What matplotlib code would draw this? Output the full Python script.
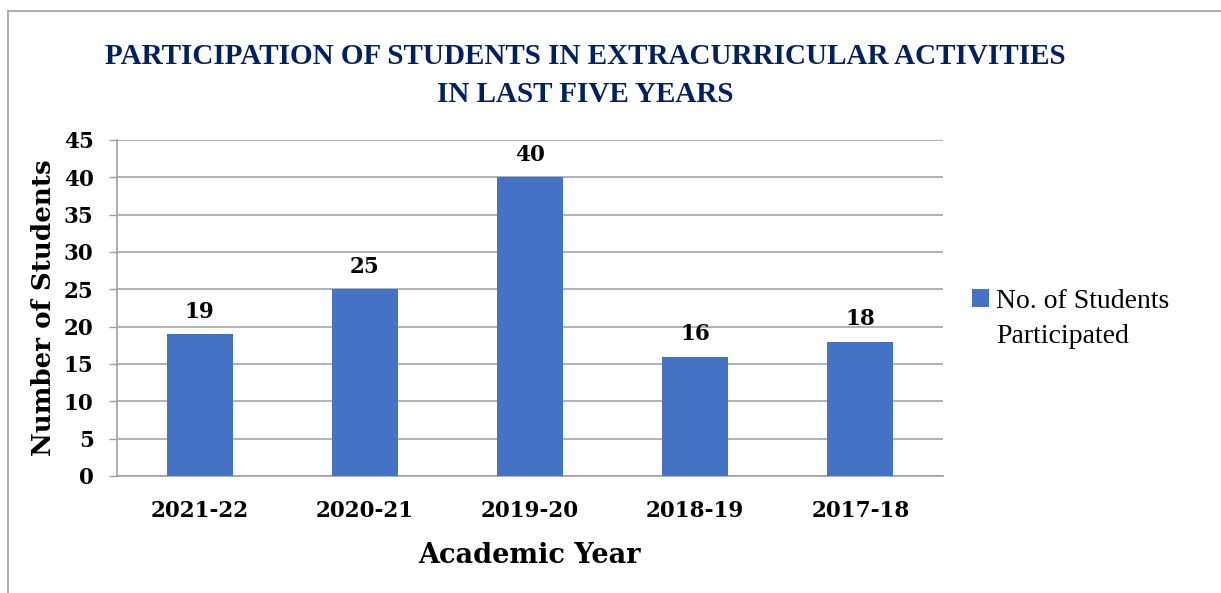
import matplotlib
matplotlib.use("Agg")
import matplotlib.pyplot as plt
from matplotlib.lines import Line2D
from matplotlib.patches import Patch

years = ["2021-22", "2020-21", "2019-20", "2018-19", "2017-18"]
students = [19, 25, 40, 16, 18]
yticks = [0, 5, 10, 15, 20, 25, 30, 35, 40, 45]
series_name_lines = ["No. of Students", "Participated"]

WIDE = ["DejaVu Serif"]
NARROW = ["Liberation Serif", "DejaVu Serif"]
plt.rcParams["font.family"] = WIDE

fig = plt.figure(figsize=(12.21, 5.93), dpi=100)
W, H = 1221, 593
ax = fig.add_axes([117 / W, 1 - 476 / H, (943 - 117) / W, (476 - 140) / H])

bar_color = "#4472C4"
x = list(range(len(years)))
ax.bar(x, students, width=0.4, color=bar_color, zorder=3)
for xi, v in zip(x, students):
    ax.text(xi, v + 2.2, str(v), ha="center", va="baseline", fontsize=15.5,
            fontweight="bold", color="black")

ax.set_xlim(-0.5, len(years) - 0.5)
ax.set_ylim(0, 45)
ax.set_yticks(yticks)
ax.set_yticklabels([str(t) for t in yticks], fontsize=15.5, fontweight="bold")
ax.set_xticks(x)
ax.set_xticklabels(years, fontsize=15.5, fontweight="bold")
ax.tick_params(axis="x", length=0, pad=17)
ax.tick_params(axis="y", length=5.8, width=1, color="#A0A0A0", pad=11)

ax.grid(axis="y", color="#A6A6A6", linewidth=1.2, zorder=0)
for s in ["top", "right"]:
    ax.spines[s].set_visible(False)
for s in ["left", "bottom"]:
    ax.spines[s].set_color("#A0A0A0")
    ax.spines[s].set_linewidth(1.2)

ax.set_xlabel("Academic Year", fontsize=19.5, fontweight="bold")
ax.xaxis.set_label_coords(0.5, (476 - 542) / 336)
ax.set_ylabel("Number of Students", fontsize=18.8, fontweight="bold")
ax.yaxis.set_label_coords((56 - 117) / 826, 0.5)

fig.text(585 / W, 1 - 56 / H, "PARTICIPATION OF STUDENTS IN EXTRACURRICULAR ACTIVITIES",
         ha="center", va="center", fontsize=21, fontweight="bold", color="#002060",
         family=NARROW)
fig.text(585 / W, 1 - 94 / H, "IN LAST FIVE YEARS",
         ha="center", va="center", fontsize=21, fontweight="bold", color="#002060",
         family=NARROW)

handle = Patch(facecolor=bar_color, edgecolor="none")
blank = Patch(facecolor="none", edgecolor="none")
leg = fig.legend([handle, blank], series_name_lines, loc="upper left",
                 bbox_to_anchor=(961 / W, 1 - 278 / H), frameon=False,
                 prop={"family": NARROW, "size": 20},
                 handlelength=0.62, handleheight=0.62, handletextpad=0.25,
                 labelspacing=0.35, borderaxespad=0)

# outer chart frame (left and top visible)
fig.add_artist(Line2D([8 / W, 8 / W], [0, 1 - 11 / H], transform=fig.transFigure,
                      color="#A0A0A0", linewidth=1.2))
fig.add_artist(Line2D([8 / W, 1], [1 - 11 / H, 1 - 11 / H], transform=fig.transFigure,
                      color="#A0A0A0", linewidth=1.2))

fig.savefig("out.png", dpi=100, facecolor="white")
